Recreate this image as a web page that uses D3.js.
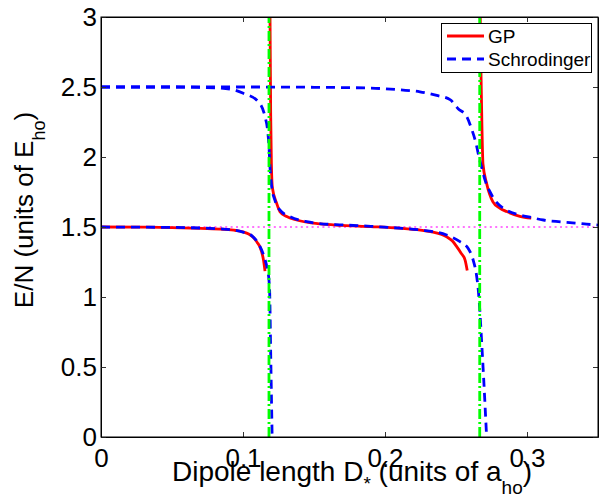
<!DOCTYPE html>
<html>
<head>
<meta charset="utf-8">
<script src="https://cdn.jsdelivr.net/npm/d3@7"></script>
<style>
body{margin:0;background:#fff;}
text{font-family:"Liberation Sans",Arial,Helvetica,sans-serif;fill:#000;}
.axis path{stroke:#000;}
.axis line{stroke:#333;}
</style>
</head>
<body>
<div id="chart"></div>
<script>
// tick values / labels
var xTicks = [0, 0.1, 0.2, 0.3];
var xTickLabels = ["0", "0.1", "0.2", "0.3"];
var yTicks = [0, 0.5, 1, 1.5, 2, 2.5, 3];
var yTickLabels = ["0", "0.5", "1", "1.5", "2", "2.5", "3"];

// GP branches  [D, E/N]
var gpLeft = [[0,1.5],[0.03,1.499],[0.05,1.496],[0.07,1.49],[0.086,1.484],[0.095,1.475],[0.1,1.465],
  [0.104,1.45],[0.107,1.428],[0.11,1.39],[0.112,1.355],[0.1145,1.26],[0.1155,1.185]];
var gpMiddle = [[0.1190,3.05],[0.1195,2.3],[0.1200,1.95],[0.1207,1.78],[0.1237,1.67],[0.126,1.61],
  [0.1308,1.575],[0.1378,1.55],[0.154,1.522],[0.17,1.512],[0.19,1.503],[0.21,1.492],[0.225,1.478],
  [0.232,1.467],[0.2434,1.43],[0.2475,1.4],[0.2505,1.36],[0.2535,1.315],[0.2564,1.264],[0.2579,1.19]];
var gpRight = [[0.2670,3.05],[0.2676,2.6],[0.2683,2.2],[0.2690,1.95],[0.2716,1.81],[0.276,1.68],
  [0.2808,1.635],[0.2857,1.61],[0.295,1.576],[0.303,1.563]];

// Schrodinger branches
var schLower = [[0,1.5],[0.05,1.497],[0.086,1.485],[0.1,1.464],[0.1065,1.435],[0.1106,1.385],
  [0.1148,1.29],[0.1173,1.19],[0.1183,1.12],[0.1188,1.03],[0.1195,0.6],[0.1206,-0.05]];
var schUpperA = [[0,2.5],[0.05,2.5],[0.08,2.494],[0.091,2.485],[0.1002,2.455],[0.1108,2.395],
  [0.1155,2.288],[0.1173,2.193],[0.1183,2.074],[0.119,1.93],[0.1202,1.79],[0.1225,1.69],[0.1261,1.62],
  [0.1331,1.574],[0.1449,1.538],[0.1528,1.526],[0.17,1.515],[0.19,1.505],[0.21,1.492],[0.2246,1.479],
  [0.2434,1.443],[0.2528,1.395],[0.2587,1.345],[0.2622,1.26],[0.2646,1.145],[0.2657,1.05],
  [0.2685,0.6],[0.2718,-0.05]];
var schUpperB = [[0,2.5],[0.1,2.5],[0.15,2.498],[0.19,2.492],[0.2113,2.479],[0.2246,2.466],
  [0.2364,2.44],[0.2458,2.41],[0.2515,2.345],[0.2575,2.29],[0.261,2.2],[0.2641,2.097],[0.2664,1.99],
  [0.268,1.93],[0.2704,1.836],[0.274,1.75],[0.2775,1.69],[0.2857,1.62],[0.295,1.586],[0.302,1.57],
  [0.3115,1.55],[0.322,1.538],[0.332,1.53],[0.342,1.52],[0.35,1.514]];

// resonance positions and the reference level
var resonanceD = [0.1183, 0.2667];
var levelE = 1.5;
var legendNames = ["GP", "Schrodinger"];

var w = 599;
var h = 498;
var padL = 101, padR = 598, padT = 17, padB = 437;
var svgChart, xScale, yScale, plot;

function setScales(){
  xScale = d3.scaleLinear()
    .domain([0, 0.35])
    .range([padL, padR]);
  yScale = d3.scaleLinear()
    .domain([0, 3])
    .range([padB, padT]);
}

function drawAxes(){
  svgChart = d3.select("#chart")
    .append("svg")
    .attr("width", w)
    .attr("height", h);

  svgChart.append("defs").append("clipPath")
    .attr("id", "clip")
    .append("rect")
    .attr("x", padL).attr("y", padT)
    .attr("width", padR - padL).attr("height", padB - padT);

  plot = svgChart.append("g").attr("clip-path", "url(#clip)");

  // bottom axis
  var xb = svgChart.append("g")
    .attr("class", "axis")
    .attr("transform", "translate(0," + padB + ")")
    .call(d3.axisBottom(xScale).tickValues(xTicks)
      .tickFormat(function(d, i){ return xTickLabels[i]; })
      .tickSizeInner(-5).tickSizeOuter(0).tickPadding(12));
  xb.selectAll("text").style("font-size", "26px");

  // top axis (ticks only)
  svgChart.append("g")
    .attr("class", "axis")
    .attr("transform", "translate(0," + padT + ")")
    .call(d3.axisTop(xScale).tickValues(xTicks).tickFormat("")
      .tickSizeInner(-5).tickSizeOuter(0));

  // left axis
  var yl = svgChart.append("g")
    .attr("class", "axis")
    .attr("transform", "translate(" + padL + ",0)")
    .call(d3.axisLeft(yScale).tickValues(yTicks)
      .tickFormat(function(d, i){ return yTickLabels[i]; })
      .tickSizeInner(-5).tickSizeOuter(0).tickPadding(4));
  yl.selectAll("text").style("font-size", "26px");

  // right axis (ticks only)
  svgChart.append("g")
    .attr("class", "axis")
    .attr("transform", "translate(" + padR + ",0)")
    .call(d3.axisRight(yScale).tickValues(yTicks).tickFormat("")
      .tickSizeInner(-5).tickSizeOuter(0));

  svgChart.selectAll(".axis").attr("font-family", null).attr("font-size", null);

  // x label
  var xl = svgChart.append("text")
    .attr("x", 352)
    .attr("y", 481)
    .style("text-anchor", "middle")
    .style("font-size", "28px");
  xl.append("tspan").text("Dipole length D");
  xl.append("tspan").attr("dy", 9).style("font-size", "19px").text("*");
  xl.append("tspan").attr("dy", -9).text(" (units of a");
  xl.append("tspan").attr("dy", 13).style("font-size", "19px").text("ho");
  xl.append("tspan").attr("dy", -13).text(")");

  // y label
  var ylab = svgChart.append("text")
    .attr("transform", "translate(33,210) rotate(-90)")
    .style("text-anchor", "middle")
    .style("font-size", "26px");
  ylab.append("tspan").text("E/N (units of E");
  ylab.append("tspan").attr("dy", 12).style("font-size", "18px").text("ho");
  ylab.append("tspan").attr("dy", -12).text(")");
}

function drawLines(){
  var line = d3.line()
    .x(function(d){ return xScale(d[0]); })
    .y(function(d){ return yScale(d[1]); })
    .curve(d3.curveMonotoneX);

  // reference level
  plot.append("line")
    .attr("x1", xScale(0)).attr("x2", xScale(0.35))
    .attr("y1", yScale(levelE)).attr("y2", yScale(levelE))
    .attr("stroke", "#ff44ff")
    .attr("stroke-width", 1.5)
    .attr("stroke-dasharray", "2,3.4");

  // GP
  plot.selectAll(".gp")
    .data([gpLeft, gpMiddle, gpRight])
    .enter().append("path")
    .attr("class", "gp")
    .attr("d", line)
    .attr("fill", "none")
    .attr("stroke", "#ff0000")
    .attr("stroke-width", 2.8);

  // Schrodinger
  plot.selectAll(".sch")
    .data([schLower, schUpperA, schUpperB])
    .enter().append("path")
    .attr("class", "sch")
    .attr("d", line)
    .attr("fill", "none")
    .attr("stroke", "#0000ff")
    .attr("stroke-width", 2.8)
    .attr("stroke-dasharray", "9,6");

  // resonances
  plot.selectAll(".res")
    .data(resonanceD)
    .enter().append("line")
    .attr("class", "res")
    .attr("x1", function(d){ return xScale(d); })
    .attr("x2", function(d){ return xScale(d); })
    .attr("y1", yScale(0)).attr("y2", yScale(3))
    .attr("stroke", "#00ff00")
    .attr("stroke-width", 2.8)
    .attr("stroke-dasharray", "10,3,2,3");

  // box
  svgChart.append("rect")
    .attr("x", padL).attr("y", padT)
    .attr("width", padR - padL).attr("height", padB - padT)
    .attr("fill", "none")
    .attr("stroke", "#000")
    .attr("stroke-width", 1);
}

function drawLegend(){
  var lg = svgChart.append("g");
  lg.append("rect")
    .attr("x", 441.5).attr("y", 23.5)
    .attr("width", 150).attr("height", 49)
    .attr("fill", "#fff")
    .attr("stroke", "#000")
    .attr("stroke-width", 1);
  var styles = [{c: "#ff0000", dash: null}, {c: "#0000ff", dash: "9,6"}];
  legendNames.forEach(function(name, i){
    var yy = 36 + i * 23;
    lg.append("line")
      .attr("x1", 447).attr("x2", 484)
      .attr("y1", yy).attr("y2", yy)
      .attr("stroke", styles[i].c)
      .attr("stroke-width", 2.8)
      .attr("stroke-dasharray", styles[i].dash);
    lg.append("text")
      .attr("x", 488).attr("y", yy + 7)
      .style("font-size", "19px")
      .text(name);
  });
}

function runTool(){
  setScales();
  drawAxes();
  drawLines();
  drawLegend();
}

runTool();
</script>
</body>
</html>
